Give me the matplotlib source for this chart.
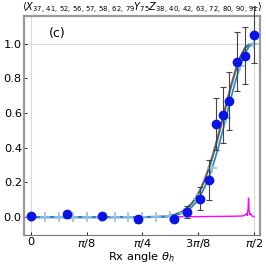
import numpy as np
import matplotlib
matplotlib.use("Agg")
import matplotlib.pyplot as plt

# measured points (angle in units of pi)
meas_x = [0, 0.08, 0.16, 0.24, 0.32, 0.35, 0.38, 0.40, 0.415, 0.43, 0.445, 0.463, 0.48, 0.5]
meas_y = [0.005, 0.016, 0.008, -0.012, -0.01, 0.029, 0.107, 0.216, 0.54, 0.59, 0.67, 0.895, 0.93, 1.05]
meas_err = [0.015, 0.02, 0.015, 0.02, 0.015, 0.035, 0.065, 0.115, 0.15, 0.16, 0.165, 0.17, 0.165, 0.16]

# theory curves (angle in units of pi)
curve_x = [0, 0.05, 0.10, 0.15, 0.20, 0.25, 0.28, 0.30, 0.32, 0.34, 0.36, 0.37, 0.38, 0.39,
           0.40, 0.41, 0.42, 0.43, 0.44, 0.45, 0.46, 0.47, 0.48, 0.49, 0.50]
blue_y = [0, 0, 0, 0, 0, 0, 0.001, 0.002, 0.008, 0.023, 0.057, 0.085, 0.124, 0.174,
          0.237, 0.313, 0.400, 0.497, 0.599, 0.701, 0.796, 0.880, 0.945, 0.986, 1.0]
gray_y = [0, 0, 0, 0, 0, 0, 0.002, 0.004, 0.012, 0.032, 0.077, 0.111, 0.158, 0.218,
          0.290, 0.374, 0.468, 0.568, 0.670, 0.768, 0.855, 0.925, 0.975, 0.997, 1.0]

# simulated points at k*pi/32
sim_x = [k / 32 for k in range(17)]
sim_y = [0, 0, 0, 0, 0, 0, 0, 0, 0, 0.001, 0.005, 0.027, 0.103, 0.283, 0.573, 0.870, 1.0]

# magenta trace
mag_x = [0.32, 0.36, 0.40, 0.44, 0.46, 0.475, 0.48, 0.483, 0.485, 0.487, 0.488, 0.489,
         0.491, 0.493, 0.495, 0.498, 0.5]
mag_y = [0.002, 0.003, 0.004, 0.005, 0.006, 0.007, 0.012, 0.02, 0.01, 0.05, 0.11, 0.04,
         0.015, 0.02, 0.008, 0.006, 0.002]

xticks = [0, 1 / 8, 1 / 4, 3 / 8, 1 / 2]
xticklabels = ["0", r"$\pi/8$", r"$\pi/4$", r"$3\pi/8$", r"$\pi/2$"]
yticks = [0.0, 0.2, 0.4, 0.6, 0.8, 1.0]

fig = plt.figure(figsize=(2.66, 2.65), dpi=100)
ax = fig.add_axes([0.090, 0.113, 0.887, 0.828])

for v in [0, np.pi / 2]:
    ax.axvline(v, color="#d8d8d8", lw=0.8, zorder=0)
ax.axhline(1.0, color="#d8d8d8", lw=0.8, zorder=0)

pi = np.pi
ax.plot(np.array(curve_x) * pi, gray_y, color="#606060", lw=1.6, zorder=2)
ax.plot(np.array(curve_x) * pi, blue_y, color="#2b8ad0", lw=1.3, zorder=3)
ax.plot(np.array(sim_x) * pi, sim_y, ls="none", marker="+", ms=7, mew=1.2,
        color="#8ec3e6", zorder=3)
ax.plot(np.array(mag_x) * pi, mag_y, color="#ff00ff", lw=1.0, zorder=2)

eb = ax.errorbar(np.array(meas_x) * pi, meas_y, yerr=meas_err, fmt="o", ms=6,
                 color="#0a14e6", ecolor="#444444", elinewidth=0.8, capsize=2,
                 capthick=0.8, zorder=4)
for art in eb.lines[1] + eb.lines[2]:
    art.set_clip_on(False)

ax.set_xlim(-0.0493, 1.613)
ax.set_ylim(-0.103, 1.162)
ax.set_xticks(np.array(xticks) * pi)
ax.set_xticklabels(xticklabels)
ax.set_yticks(yticks)
ax.tick_params(direction="in", length=2.5, width=0.6, labelsize=8.2, pad=1.5)
ax.set_xlabel(r"Rx angle $\theta_h$", fontsize=8.2, labelpad=0)

for side in ["left", "top", "right"]:
    ax.spines[side].set_color("#9a9a9a")
    ax.spines[side].set_linewidth(1.6)
ax.spines["bottom"].set_color("#777777")
ax.spines["bottom"].set_linewidth(0.8)

ax.text(0.14, 0.92, "(c)", transform=ax.transAxes, fontsize=9, ha="center", va="center")
ax.set_title(r"$\langle X_{37,\,41,\,52,\,56,\,57,\,58,\,62,\,79} Y_{75}"
             r" Z_{38,\,40,\,42,\,63,\,72,\,80,\,90,\,91}\rangle$",
             fontsize=7, pad=1.2)

fig.savefig("out.png", dpi=100)
